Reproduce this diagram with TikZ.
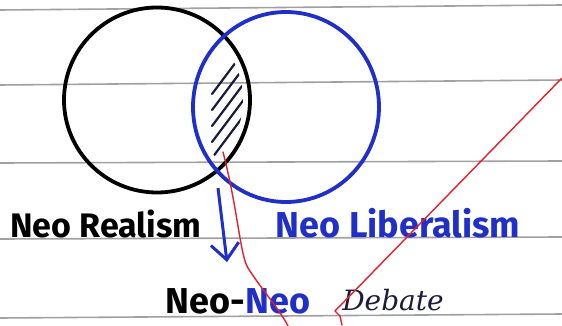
\documentclass[tikz,border=0pt]{standalone}
\usepackage{fontspec}
\setmainfont{Fira Sans}
\newfontfamily\debatefont{DejaVu Serif}
\usetikzlibrary{arrows.meta,shapes.geometric}
\definecolor{penblue}{HTML}{1F2FC8}
\definecolor{penred}{HTML}{E3202C}
\definecolor{ruled}{HTML}{8A8A8A}
\definecolor{inkdark}{HTML}{1C1C3A}
\tikzset{
  ruleline/.style={ruled, line width=1.6pt, opacity=0.8},
  blackring/.style={draw=black, line width=3.8pt, ellipse, inner sep=0pt},
  bluering/.style={draw=penblue, line width=3.8pt, ellipse, inner sep=0pt},
  hatchline/.style={inkdark, line width=2.2pt, line cap=round},
  redline/.style={penred, line width=1.4pt, line cap=round},
  labelfont/.style={font=\bfseries\fontsize{36}{38}\selectfont, inner sep=0pt},
}
\begin{document}
\begin{tikzpicture}[x=1pt,y=-1pt]
\useasboundingbox (0,0) rectangle (562,326);
\fill[white] (0,0) rectangle (562,326);
% ruled paper lines
\draw[ruleline] (0,10) -- (562,5);
\draw[ruleline] (0,85) -- (562,80);
\draw[ruleline] (0,163) -- (562,161);
\draw[ruleline] (0,239) -- (562,237);
\draw[ruleline] (0,318) -- (562,314);
% circles
\node[blackring, minimum width=186pt, minimum height=185pt] (realism) at (157,100) {};
\node[bluering, minimum width=186pt, minimum height=190pt] (liberalism) at (286,107) {};
% hatching of the overlap
\begin{scope}
  \clip (157,100) ellipse [x radius=86pt, y radius=85pt];
  \clip (286,107) ellipse [x radius=86pt, y radius=88pt];
  \foreach \k in {0,...,5} {
    \draw[hatchline] (212,{94+\k*16}) -- (248,{46+\k*16});
  }
\end{scope}
% labels
\node[labelfont, font=\bfseries\fontsize{34}{36}\selectfont, anchor=base] (nr) at (106,237) {Neo Realism};
\node[labelfont, anchor=base, text=penblue] (nl) at (398,237) {Neo Liberalism};
\node[labelfont, anchor=base] (nn) at (238,313) {Neo-\textcolor{penblue}{Neo}};
\node[font=\debatefont\itshape\fontsize{28}{30}\selectfont, text=inkdark, anchor=base, inner sep=0pt] (debate) at (393,310) {Debate};
% arrow
\coordinate (arrstart) at (218,188);
\coordinate (arrend) at (227,262);
\draw[penblue, line width=3pt, -{Straight Barb[length=16pt,width=28pt]}] (arrstart) -- (arrend);
% red strokes
\coordinate (r1a) at (562,78);
\coordinate (r1b) at (335,311);
\coordinate (r1c) at (342,325);
\draw[redline] (r1a) -- (r1b) -- (340,316) -- (r1c);
\coordinate (r2a) at (223,152);
\coordinate (r2b) at (288,326);
\draw[redline] (r2a) .. controls (238,210) and (240,255) .. (248,268) .. controls (262,290) and (280,310) .. (r2b);
\end{tikzpicture}
\end{document}
